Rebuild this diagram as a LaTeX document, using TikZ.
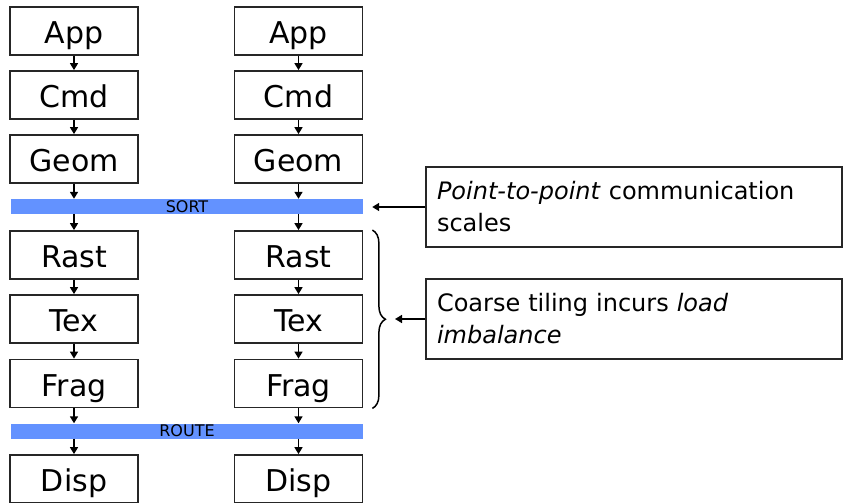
\documentclass[tikz,border=0pt]{standalone}
\usepackage{fontspec}
\setmainfont{DejaVu Sans}
\usetikzlibrary{arrows.meta,decorations.pathreplacing}

\definecolor{barblue}{RGB}{99,146,255}

\tikzset{
  stage/.style={draw=black!85, line width=1.8pt, minimum width=128pt, minimum height=48pt,
    inner sep=0pt, text height=25pt, text depth=0pt, font=\fontsize{30}{30}\selectfont},
  bus/.style={fill=barblue, minimum width=352pt, minimum height=15pt, inner sep=0pt,
    font=\fontsize{16}{16}\selectfont},
  note/.style={draw=black!85, line width=1.8pt, minimum width=416pt, minimum height=80pt,
    text width=394pt, inner xsep=11pt, align=left, font=\fontsize{24}{32}\selectfont},
  link/.style={-{Triangle[length=7pt,width=8pt]}, line width=1.6pt},
}

\begin{document}
\begin{tikzpicture}[x=1pt,y=-1pt]
			\useasboundingbox (0,0) rectangle (843,503);

			% Left pipeline
			\node[stage] (appL) at (74,31) {App};
			\node[stage] (cmdL) at (74,95) {Cmd};
			\node[stage] (geomL) at (74,159) {Geom};
			\node[stage] (rastL) at (74,255) {Rast};
			\node[stage] (texL) at (74,319) {Tex};
			\node[stage] (fragL) at (74,383.5) {Frag};
			\node[stage] (dispL) at (74,479) {Disp};

			% Right pipeline
			\node[stage] (appR) at (298.5,31) {App};
			\node[stage] (cmdR) at (298.5,95) {Cmd};
			\node[stage] (geomR) at (298.5,159) {Geom};
			\node[stage] (rastR) at (298.5,255) {Rast};
			\node[stage] (texR) at (298.5,319) {Tex};
			\node[stage] (fragR) at (298.5,383.5) {Frag};
			\node[stage] (dispR) at (298.5,479) {Disp};

			% Communication bars
			\node[bus] (sort) at (187,206.5) {SORT};
			\node[bus] (route) at (187,431) {ROUTE};

			% Notes
			\node[note] (note1) at (634,207) {\textit{Point-to-point} communication\\scales};
			\node[note] (note2) at (634,319) {Coarse tiling incurs \textit{load}\\\textit{imbalance}};

			% Left arrows
			\draw[link] (appL) -- (cmdL);
			\draw[link] (cmdL) -- (geomL);
			\draw[link] (geomL) -- (geomL |- sort.north);
			\draw[link] (sort.south -| rastL) -- (rastL);
			\draw[link] (rastL) -- (texL);
			\draw[link] (texL) -- (fragL);
			\draw[link] (fragL) -- (fragL |- route.north);
			\draw[link] (route.south -| dispL) -- (dispL);

			% Right arrows
			\draw[link] (appR) -- (cmdR);
			\draw[link] (cmdR) -- (geomR);
			\draw[link] (geomR) -- (geomR |- sort.north);
			\draw[link] (sort.south -| rastR) -- (rastR);
			\draw[link] (rastR) -- (texR);
			\draw[link] (texR) -- (fragR);
			\draw[link] (fragR) -- (fragR |- route.north);
			\draw[link] (route.south -| dispR) -- (dispR);

			% Brace and note arrows
			\draw[line width=1.5pt, decorate, decoration={brace, amplitude=13pt}]
				([xshift=9pt]rastR.north east) -- ([xshift=9pt]fragR.south east);
			\coordinate (braceTip) at (395,319);
			\draw[link, shorten >=9pt] (note1) -- (note1 -| sort.east);
			\draw[link] (note2) -- (braceTip);

		\end{tikzpicture}
\end{document}
